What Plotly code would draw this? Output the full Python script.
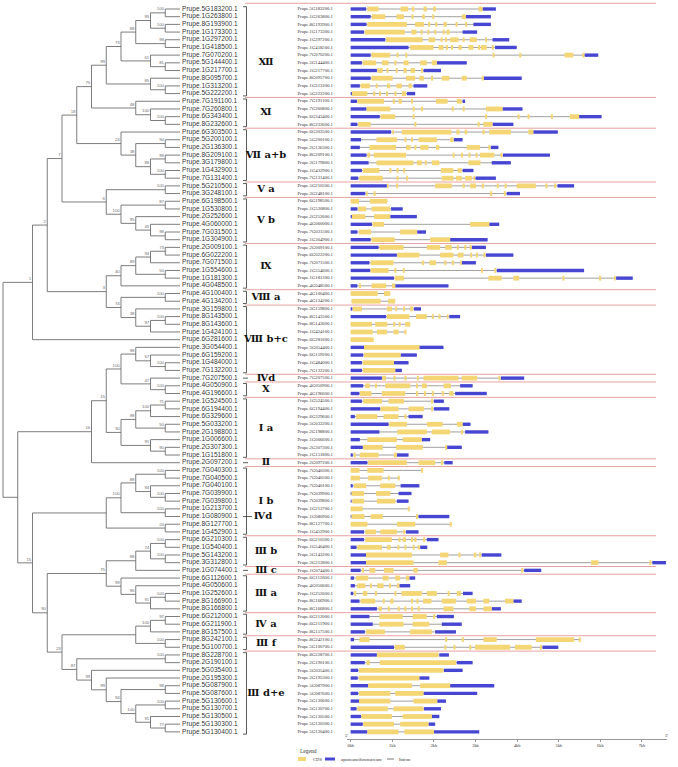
import plotly.graph_objects as go

# ---------------- data ----------------
leaf_names = [
    "Prupe.5G183200.1", "Prupe.1G263800.1", "Prupe.8G193900.1", "Prupe.1G173300.1",
    "Prupe.1G297200.1", "Prupe.1G418500.1", "Prupe.7G070200.1", "Prupe.5G144400.1",
    "Prupe.1G217700.1", "Prupe.8G095700.1", "Prupe.1G313200.1", "Prupe.5G222200.1",
    "Prupe.7G191100.1", "Prupe.7G260800.1", "Prupe.6G343400.1", "Prupe.8G232600.1",
    "Prupe.6G303500.1", "Prupe.5G200100.1", "Prupe.2G136300.1", "Prupe.8G209100.1",
    "Prupe.3G179800.1", "Prupe.1G432900.1", "Prupe.7G131400.1", "Prupe.5G210500.1",
    "Prupe.3G248100.1", "Prupe.6G198500.1", "Prupe.1G530800.1", "Prupe.2G252600.1",
    "Prupe.4G060000.1", "Prupe.7G031500.1", "Prupe.1G304900.1", "Prupe.2G009100.1",
    "Prupe.6G022200.1", "Prupe.7G071500.1", "Prupe.1G554600.1", "Prupe.1G181300.1",
    "Prupe.4G048500.1", "Prupe.4G100400.1", "Prupe.4G134200.1", "Prupe.3G159800.1",
    "Prupe.8G143500.1", "Prupe.8G143600.1", "Prupe.1G424100.1", "Prupe.6G281600.1",
    "Prupe.3G054400.1", "Prupe.6G159200.1", "Prupe.1G484000.1", "Prupe.7G132200.1",
    "Prupe.7G207500.1", "Prupe.4G050900.1", "Prupe.4G196600.1", "Prupe.1G524500.1",
    "Prupe.6G194400.1", "Prupe.6G329600.1", "Prupe.5G033200.1", "Prupe.2G198800.1",
    "Prupe.1G006600.1", "Prupe.2G307300.1", "Prupe.1G151800.1", "Prupe.2G097200.1",
    "Prupe.7G040300.1", "Prupe.7G040500.1", "Prupe.7G040100.1", "Prupe.7G039900.1",
    "Prupe.7G039800.1", "Prupe.1G213700.1", "Prupe.1G080900.1", "Prupe.8G127700.1",
    "Prupe.1G452900.1", "Prupe.6G210300.1", "Prupe.1G540400.1", "Prupe.5G143200.1",
    "Prupe.3G312800.1", "Prupe.1G074400.1", "Prupe.6G112600.1", "Prupe.4G050600.1",
    "Prupe.1G252600.1", "Prupe.8G166900.1", "Prupe.8G166800.1", "Prupe.6G212000.1",
    "Prupe.6G211900.1", "Prupe.8G157500.1", "Prupe.8G242100.1", "Prupe.5G100700.1",
    "Prupe.8G228700.1", "Prupe.2G190100.1", "Prupe.5G035400.1", "Prupe.2G195300.1",
    "Prupe.5G087900.1", "Prupe.5G087600.1", "Prupe.5G130600.1", "Prupe.5G130700.1",
    "Prupe.5G130500.1", "Prupe.5G130300.1", "Prupe.5G130400.1",
]

# tree topology by clade (leaf = row index, number after ')' = bootstrap support)
clade_XII = "(((((0,1)100,(2,3)100)95,(4,5)98)88,(6,(7,8)81)61)73,(9,(10,11)100)85)99"
clade_XI = "(12,(13,(14,15)100)100)48"
clade_VIIab = "(16,((17,18)94,((19,20)99,(21,22)100)88)38)24"
clade_V = "((23,24)100,((25,26)87,(27,(28,(29,30)98)45)95)100)6"
clade_IX = "((((31,32)73,33)94,(34,35)50)89,36)40"
clade_VIII = "((37,38)100,(39,((40,41)100,42)97)38)74"
clade_VIIIc_X = "((44,(45,(46,47)100)67)98,(48,(49,50)100)47)100"
clade_Ia = "((((51,52)71,53)100,(54,55)50)98,(56,(57,58)90)91)30"
clade_Ib = "((((60,61)100,(62,(63,64)100)94)88,(65,66)100)100,(67,68)24)"
clade_IIIbc = "(((69,70)100,(71,72)100)74,73)88"
clade_IIIa = "(74,(75,((76,77)100,78)91)96)99"
clade_IVa_IIIf = "(((79,80)97,81)100,(82,83)100)"
clade_IIIde = "((84,85)100,(86,(87,((88,89)98,((90,91)100,(92,(93,94)77)91)100)94)99)99)87"

# gene structures in kb: U = upstream/downstream, C = CDS
gene_structs = [
    "U0-0.37 C0.40-0.67 C1.20-1.38 C1.47-1.53 C1.75-1.83 C1.98-2.05 C3.07-3.17 U3.17-3.49",
    "U0-0.48 C0.51-0.83 C1.10-1.28 C1.46-1.51 C1.72-1.78 C1.96-2.01 C2.67-2.77 U2.77-3.37",
    "U0-0.38 C0.40-1.35 C1.55-1.76 C1.86-1.91 C2.03-2.08 C2.23-2.31 C2.52-2.57 C2.75-2.80 U2.95-3.37",
    "U0-0.32 C0.34-1.30 C1.46-1.58 C1.68-1.73 C1.84-1.89 C2.01-2.06 C2.21-2.26 C2.30-2.38 U2.69-3.04",
    "U0-0.83 C0.85-1.73 C1.87-2.03 C2.16-2.21 C2.27-2.32 C2.39-2.59 C2.69-2.74 C2.86-3.03 C3.23-3.28 U3.41-3.81",
    "U0-1.39 C1.43-1.99 C2.11-2.23 C2.29-2.34 C2.41-2.46 C2.59-2.67 C2.83-2.95 C3.06-3.11 C3.13-3.27 C3.39-3.44 U3.47-3.99",
    "U0-0.48 C0.50-0.95 C1.10-1.15 C1.31-1.36 C3.41-3.46 C4.05-4.10 C5.14-5.35 C5.57-5.62 U5.62-5.95",
    "U0-0.27 C0.29-0.61 C0.75-0.91 C1.05-1.10 C1.27-1.39 C1.67-1.83 C1.95-2.07 U2.07-2.79",
    "U0-0.63 C0.64-0.77 C0.86-0.91 C1.08-1.13 C1.27-1.35 C1.44-1.55 C1.69-1.74 U1.75-2.17",
    "U0-0.48 C0.50-1.01 C1.33-1.55 C1.65-1.76 C1.93-1.98 C2.19-2.37 C2.67-2.79 C3.15-3.20 U3.20-4.11",
    "U0-0.22 C0.24-0.46 C0.60-0.65 C0.87-0.95 C1.10-1.23 C1.39-1.47 U1.51-1.84",
    "U0-0.03 C0.03-0.40 C0.54-0.59 C0.68-0.73 C0.85-0.90 C1.05-1.10 C1.23-1.33 U1.35-1.55",
    "U0-0.15 C0.16-0.80 C1.01-1.06 C1.15-1.23 C1.45-1.50 C2.05-2.33 C2.55-2.67 U2.69-2.75",
    "U0-0.38 C0.38-0.95 C1.49-1.54 C1.69-1.74 C2.43-2.48 C2.69-2.74 C3.25-3.65 U3.65-4.13",
    "U0-0.70 C0.72-1.07 C1.49-1.54 C3.23-3.28 C4.01-4.06 C4.25-4.30 C4.81-4.86 C5.27-5.49 U5.49-6.03",
    "U0-0.16 C0.18-0.48 C1.53-1.58 C3.05-3.10 C3.19-3.41 U3.41-3.91",
    "U0-0.97 C1.00-1.04 C1.23-2.42 C2.54-2.62 C2.74-2.80 C3.17-3.22 C3.33-3.85 C4.27-4.39 U4.39-4.98",
    "U0-0.25 C0.62-1.11 C1.29-1.34 C1.45-1.50 C1.63-2.07 C2.39-2.47 U2.48-2.69",
    "U0-0.22 C0.45-1.09 C1.33-1.44 C1.53-1.58 C1.67-1.87 C2.05-2.13 C2.79-3.11 C3.31-3.36 U3.37-3.55",
    "U0-0.38 C0.40-0.47 C0.55-1.33 C2.45-2.50 C2.65-2.70 C2.83-2.88 C3.00-3.05 C3.11-3.45 C3.60-3.65 U3.66-4.79",
    "U0-0.43 C0.62-1.51 C1.59-1.71 C1.78-1.83 C1.95-2.13 C2.83-3.12 U3.39-3.85",
    "U0-0.27 C0.29-0.69 C0.93-0.98 C1.10-1.15 C1.26-1.31 C2.17-2.47 C2.57-2.67 U2.69-2.95",
    "U0-0.18 C0.21-0.77 C1.10-1.15 C1.33-1.38 C2.19-2.47 C2.53-2.67 C2.75-2.91 C2.95-2.99 U3.00-3.49",
    "U0-0.87 C0.87-0.91 C1.09-1.14 C2.03-2.43 C2.69-2.74 C2.87-3.01 C3.15-3.20 C3.51-3.56 C3.70-3.75 C3.99-4.45 C4.68-4.73 C4.89-4.94 U4.97-5.37",
    "U0-0.35 C0.37-0.41 C0.55-0.60 C3.35-3.40 C3.68-3.73 U3.75-4.07",
    "C0-0.20 C0.46-0.88",
    "U0-0.16 C0.18-0.37 C0.50-0.95 U0.97-1.25",
    "U0-0.03 C0.03-0.35 C0.56-0.95 U0.95-1.59",
    "U0-0.51 C0.53-0.80 C2.87-3.33 U3.33-3.57",
    "U0-0.16 C0.20-0.49 C1.19-1.59 U1.60-1.81",
    "U0-0.48 C0.50-1.06 C1.91-2.39 U2.39-3.29",
    "U0-0.67 C0.69-1.27 C1.83-2.15 C2.27-2.43 C2.55-2.60 C2.73-2.78 C2.86-2.91 U2.91-3.25",
    "U0-1.11 C1.12-1.65 C2.15-2.47 C2.57-2.71 C2.87-2.92 C3.01-3.06 C3.19-3.24 U3.25-3.91",
    "U0-0.45 C0.48-1.03 C1.71-1.76 C1.89-2.05 C2.25-2.30 C2.43-2.48 C2.63-2.67 U2.67-3.01",
    "U0-0.47 C0.48-0.91 C1.05-1.10 C1.25-1.30 C3.13-3.18 C3.45-3.50 U3.51-5.61",
    "U0-1.04 C1.06-1.28 C3.31-3.63 C3.91-4.05 C5.09-5.14 C5.97-6.02 C6.33-6.37 U6.38-6.78",
    "U0-0.16 C0.20-0.25 C0.50-0.85 C0.99-1.07 U1.07-2.35",
    "C0-0.65 C0.80-0.95",
    "C0.02-0.72 C0.90-1.07",
    "U0-0.04 C0.05-0.27 C0.87-0.99 C1.07-1.12 C1.26-1.31 C1.43-1.50 U1.52-1.69",
    "U0-0.85 C0.87-1.41 C1.57-1.83 C1.95-2.00 C2.11-2.16 C2.31-2.35 U2.37-2.63",
    "C0-0.51 C0.59-0.88 C1.02-1.07 C1.15-1.20 C1.31-1.43",
    "C0-0.53 C0.63-0.87 C1.03-1.15 C1.29-1.34",
    "C0-0.55",
    "U0-0.32 C0.32-1.65 U1.65-2.23",
    "U0-0.30 C0.32-1.20 U1.20-1.59",
    "U0-0.27 C0.29-1.04 U1.04-1.39",
    "U0-0.27 C0.29-1.07 U1.07-1.23",
    "U0-0.75 C0.76-0.85 C1.03-1.08 C1.29-1.34 C1.59-1.64 C1.75-2.59 C2.67-3.04 C3.55-3.60 U3.61-4.17",
    "U0-0.30 C0.35-0.46 C0.58-0.63 C0.83-1.43 C1.57-1.62 C1.71-1.83 C2.23-2.41 U2.63-2.93",
    "U0-0.21 C0.22-0.50 C0.75-1.31 C1.57-1.62 C1.76-1.81 C1.95-2.00 C2.19-2.24 C2.37-2.47 U2.51-3.27",
    "U0-0.27 C0.30-0.75 C0.91-1.28 C1.93-1.98 U2.00-2.24",
    "U0-0.71 C0.72-1.15 C1.39-1.76 C1.93-1.98 U2.00-2.37",
    "U0-0.10 C0.13-0.64 C0.79-1.15 C1.29-1.34 U1.39-1.73",
    "U0-0.91 C0.93-1.35 C1.83-2.21 C2.55-2.69 U2.69-2.88",
    "U0-0.69 C1.12-1.83 C1.95-2.39 C2.65-2.70 U2.75-3.31",
    "U0-0.22 C0.40-1.11 C1.25-1.71 U1.71-1.91",
    "U0-0.29 C0.30-0.77 C1.09-1.73 C2.27-2.32 U2.31-2.67",
    "U0-0.05 C0.07-0.12 C0.22-0.67 C1.04-1.11 U1.11-1.39",
    "U0-0.40 C0.42-1.35 C1.63-2.03 C2.17-2.22 U2.25-2.45",
    "C0-0.21 C0.40-0.79 C1.69-1.74",
    "C0-0.22 C0.42-0.75 C0.89-0.94 C1.13-1.18",
    "U0-0.05 C0.08-0.37 C0.71-1.07 U1.20-1.65",
    "U0-0.02 C0.02-0.32 C0.61-0.95 U1.15-1.46",
    "U0-0.02 C0.04-0.32 C0.63-1.07 U1.11-1.39",
    "C0-0.29 C1.37-1.42",
    "U0-0.02 C0.02-0.33 C0.48-0.77 C1.57-1.62 U1.63-2.37",
    "C0-0.40 C1.11-1.55 C2.38-2.43",
    "U0-0.32 C0.35-0.61 C0.71-1.11 C1.26-1.31 U1.33-1.63",
    "U0-0.32 C0.35-0.99 C1.15-1.20 C1.25-1.33 C1.45-1.50 C1.53-1.58 C1.74-1.79 U1.83-2.11",
    "U0-0.14 C0.16-0.75 C0.87-0.96 C1.12-1.17 C1.29-1.34 C1.49-1.54 C1.61-1.66 U1.67-1.84",
    "U0-0.37 C0.37-1.47 C2.15-2.35 C2.59-2.64 C2.96-3.02 C3.09-3.13 U3.15-3.62",
    "U0-0.37 C0.37-1.51 C2.11-2.31 C5.78-5.95 C7.18-7.23 U7.25-7.58",
    "U0-0.24 C0.27-0.32 C0.45-0.59 C0.80-1.03 C1.51-1.61 C4.10-4.15 U4.17-4.58",
    "U0-0.08 C0.13-0.42 C0.77-0.91 C1.07-1.19 C1.33-1.41 U1.41-1.55",
    "U0-0.10 C0.16-0.35 C0.46-0.51 C0.64-0.79 C0.92-0.97 C1.11-1.17 U1.17-1.43",
    "U0-0.06 C0.08-0.13 C0.29-0.40 C0.58-0.63 C1.05-1.10 C1.22-1.71 C1.83-2.07 C2.33-2.38 C2.55-2.65 U2.70-2.93",
    "U0-0.21 C0.24-0.59 C0.77-0.82 C0.95-1.03 C1.45-1.50 C1.58-1.63 C1.74-1.94 C2.19-2.53 C2.79-3.01 C3.19-3.33 C3.71-3.91 U3.91-4.11",
    "U0-0.63 C0.67-0.75 C0.89-0.94 C1.13-1.18 C1.29-1.34 C1.45-1.50 C1.61-1.66 C2.23-2.47 C2.85-3.01 C3.19-3.39 U3.39-3.61",
    "U0-0.45 C0.69-1.25 C1.49-1.83 C1.98-2.03 U2.07-2.48",
    "U0-0.53 C0.69-1.27 C1.49-1.89 U2.19-2.67",
    "U0-0.34 C0.37-0.82 C1.43-1.95 U2.03-2.53",
    "U0-0.08 C0.21-0.45 C2.27-2.32 C2.67-2.72 C3.19-3.51 C4.45-5.37 C5.48-5.53",
    "U0-1.04 C1.06-1.30 C2.25-2.30 C2.47-2.52 C2.85-2.90 C2.99-3.83 C3.95-4.35 C4.55-4.60 U4.61-4.99",
    "U0-0.63 C0.63-2.11 U2.13-2.36",
    "U0-0.34 C0.38-0.46 C0.70-2.53 U2.55-2.93",
    "U0-0.18 C0.20-2.23 U2.24-2.69",
    "U0-0.17 C0.20-1.65 U1.65-1.89",
    "U0-0.42 C0.42-1.47 C1.67-2.39 U2.39-3.45",
    "U0-0.18 C0.20-0.95 C1.07-1.75 U1.75-3.04",
    "U0-0.20 C0.20-0.95 C1.51-2.08 U2.08-2.29",
    "U0-0.14 C0.16-0.89 C1.03-1.75 U1.76-2.17",
    "U0-0.25 C0.26-0.99 C1.25-1.95 U1.95-2.13",
    "U0-0.29 C0.30-1.04 C1.19-1.87 U1.87-2.03",
    "U0-0.40 C0.40-1.15 C1.29-2.00 U2.00-3.09",
]

group_labels = ["Ⅻ", "Ⅺ", "Ⅶ a+b", "Ⅴ a", "Ⅴ b", "Ⅸ", "Ⅷ a", "Ⅷ b+c", "Ⅳd", "Ⅹ",
                "Ⅰ a", "Ⅱ", "Ⅰ b", "Ⅲ b", "Ⅲ c", "Ⅲ a", "Ⅳ a", "Ⅲ f", "Ⅲ d+e"]
group_first = [0, 12, 16, 23, 25, 31, 37, 39, 48, 49, 51, 59, 60, 69, 73, 74, 79, 82, 84]
group_last = [11, 15, 22, 24, 30, 36, 38, 47, 48, 50, 58, 59, 68, 72, 73, 78, 81, 83, 94]
sub_label = ("Ⅳd", 66)

kb_ticks = [0, 1, 2, 3, 4, 5, 6, 7]
kb_tick_text = ["0kb", "1kb", "2kb", "3kb", "4kb", "5kb", "6kb", "7kb"]

legend_items = ["CDS", "upstream/downstream", "Intron"]

# ---------------- assemble tree ----------------
def join(*parts, sup=""):
    return "(" + ",".join(parts) + ")" + sup


upper = join(
    join(
        join(
            join(join(clade_XII, clade_XI, sup="75"), clade_VIIab, sup="18"),
            clade_V, sup="7"),
        join(clade_IX, clade_VIII, sup="3"), sup="2"),
    "43", sup="1")
lower = join(
    join(join(clade_VIIIc_X, clade_Ia, sup="15"), "59", sup="16"),
    join(clade_Ib,
         join(join(clade_IIIbc, clade_IIIa, sup="75"),
              join(clade_IVa_IIIf, clade_IIIde, sup="23"), sup="90"),
         sup="15"))
tree_newick = join(upper, lower)

# ---------------- geometry (pixel layout) ----------------
W, H = 678, 767
ROW0, ROWSTEP = 9.0, 7.69
LEAF_PX, STEP_PX = 180.0, 14.75
KB0_PX, KB_PX = 350.7, 41.6


def tx(px):
    return (px - LEAF_PX) / STEP_PX


def kx(px):
    return (px - KB0_PX) / KB_PX


def ry(py):
    return (py - ROW0) / ROWSTEP


def parse_newick(s):
    pos = 0

    def node():
        nonlocal pos
        if s[pos] == "(":
            pos += 1
            ch = [node()]
            while s[pos] == ",":
                pos += 1
                ch.append(node())
            pos += 1  # ')'
            lab = ""
            while pos < len(s) and s[pos].isdigit():
                lab += s[pos]
                pos += 1
            return {"children": ch, "support": lab}
        num = ""
        while s[pos].isdigit():
            num += s[pos]
            pos += 1
        return {"leaf": int(num)}

    return node()


root = parse_newick(tree_newick)


def place(n):
    if "leaf" in n:
        n["h"], n["y"] = 0, n["leaf"]
        return
    for c in n["children"]:
        place(c)
    n["h"] = 1 + max(c["h"] for c in n["children"])
    n["y"] = (n["children"][0]["y"] + n["children"][-1]["y"]) / 2


place(root)
lx, ly, bx, by, bt = [], [], [], [], []


def draw(n):
    if "leaf" in n:
        return
    x = -n["h"]
    lx.extend([x, x, None])
    ly.extend([n["children"][0]["y"], n["children"][-1]["y"], None])
    for c in n["children"]:
        lx.extend([x, -c["h"], None])
        ly.extend([c["y"], c["y"], None])
        draw(c)
    if n["support"]:
        bx.append(x - 0.08)
        by.append(n["y"] - 0.45)
        bt.append(n["support"])


draw(root)

fig = go.Figure()
fig.add_trace(go.Scatter(x=lx, y=ly, mode="lines", line=dict(color="#666666", width=0.85),
                         hoverinfo="skip", showlegend=False))
fig.add_trace(go.Scatter(x=bx, y=by, mode="text", text=bt, textposition="middle left",
                         textfont=dict(size=4.4, color="#707070", family="Liberation Sans"),
                         hoverinfo="skip", showlegend=False))
rows = list(range(len(leaf_names)))
fig.add_trace(go.Scatter(x=[tx(182)] * len(rows), y=rows, mode="text", text=leaf_names,
                         textposition="middle right",
                         textfont=dict(size=6.6, color="rgba(40,40,40,0.96)",
                                       family="Liberation Sans"),
                         hoverinfo="skip", showlegend=False))

# ---------------- gene structures ----------------
ix, iy, ux, uy, cx, cy = [], [], [], [], [], []
for r, s in enumerate(gene_structs):
    feats = []
    for tok in s.split():
        a, b = tok[1:].split("-")
        feats.append((tok[0], float(a), float(b)))
    start = min(f[1] for f in feats)
    end = max(f[2] for f in feats)
    ix.extend([start, end, None])
    iy.extend([r, r, None])
    for t, a, b in feats:
        if t == "U":
            ux.extend([a, b, None]); uy.extend([r, r, None])
        else:
            cx.extend([a, b, None]); cy.extend([r, r, None])

COL_CDS, COL_UTR, COL_INTRON = "#f4d675", "#4646d2", "#a0a0a0"
fig.add_trace(go.Scatter(x=ix, y=iy, xaxis="x2", mode="lines",
                         line=dict(color=COL_INTRON, width=1), hoverinfo="skip", showlegend=False))
fig.add_trace(go.Scatter(x=ux, y=uy, xaxis="x2", mode="lines",
                         line=dict(color=COL_UTR, width=3.4), hoverinfo="skip", showlegend=False))
fig.add_trace(go.Scatter(x=cx, y=cy, xaxis="x2", mode="lines",
                         line=dict(color=COL_CDS, width=4.8), hoverinfo="skip", showlegend=False))
fig.add_trace(go.Scatter(x=[kx(297.5)] * len(rows), y=rows, xaxis="x2", mode="text",
                         text=leaf_names, textposition="middle right",
                         textfont=dict(size=4.7, color="#333", family="Liberation Serif"),
                         hoverinfo="skip", showlegend=False))

# ---------------- groups: brackets, labels, separators ----------------
brx, bry, sepx, sepy = [], [], [], []
gx, gy = [], []
label_shift = {0: 1.5}
sepx.extend([kx(245), kx(656), None]); sepy.extend([-0.74, -0.74, None])
for i, (f, l) in enumerate(zip(group_first, group_last)):
    if f == l:
        brx.extend([kx(243), kx(248), None]); bry.extend([f, f, None])
    else:
        brx.extend([kx(243), kx(246.5), kx(246.5), kx(243), None])
        bry.extend([f - 0.3, f - 0.3, l + 0.3, l + 0.3, None])
    if i > 0:
        sepx.extend([kx(245), kx(656), None]); sepy.extend([f - 0.5, f - 0.5, None])
    gx.append(kx(266))
    gy.append((f + l) / 2 + label_shift.get(i, 0))
brx.extend([kx(243), kx(252), None]); bry.extend([sub_label[1], sub_label[1], None])

fig.add_trace(go.Scatter(x=sepx, y=sepy, xaxis="x2", mode="lines",
                         line=dict(color="#e7a2a2", width=1), hoverinfo="skip", showlegend=False))
fig.add_trace(go.Scatter(x=brx, y=bry, xaxis="x2", mode="lines",
                         line=dict(color="#333", width=0.8), hoverinfo="skip", showlegend=False))
fig.add_trace(go.Scatter(x=gx + [kx(263)], y=gy + [sub_label[1]], xaxis="x2", mode="text",
                         text=[f"<b>{g}</b>" for g in group_labels] + [f"<b>{sub_label[0]}</b>"],
                         textposition="middle center",
                         textfont=dict(size=10, color="#111",
                                       family="DejaVu Serif, Liberation Serif, Noto Sans CJK SC"),
                         hoverinfo="skip", showlegend=False))

# ---------------- kb scale axis ----------------
fig.add_trace(go.Scatter(x=kb_ticks, y=[None] * len(kb_ticks), xaxis="x3", mode="markers",
                         hoverinfo="skip", showlegend=False))


def px(x):
    return x / W


def py(y):
    return 1 - y / H


shapes = [
    dict(type="rect", xref="paper", yref="paper", x0=px(298), x1=px(306), y0=py(761), y1=py(757),
         fillcolor=COL_CDS, line=dict(width=0)),
    dict(type="rect", xref="paper", yref="paper", x0=px(325), x1=px(335), y0=py(760.5), y1=py(757.5),
         fillcolor=COL_UTR, line=dict(width=0)),
    dict(type="line", xref="paper", yref="paper", x0=px(387), x1=px(394), y0=py(759), y1=py(759),
         line=dict(color="#777", width=1)),
]
small = dict(family="Liberation Serif", color="#333")
ann = dict(xref="paper", yref="paper", showarrow=False, yanchor="middle")
annots = [
    dict(x=px(298), y=py(751), text="Legend", xanchor="left", font=dict(size=5.5, **small), **ann),
    dict(x=px(311), y=py(759), text=legend_items[0], xanchor="left",
         font=dict(size=4.6, **small), **ann),
    dict(x=px(339), y=py(759), text=legend_items[1], xanchor="left",
         font=dict(size=4.6, **small), **ann),
    dict(x=px(396.5), y=py(759), text=legend_items[2], xanchor="left",
         font=dict(size=4.6, **small), **ann),
    dict(x=px(346.5), y=py(735), text="5'", xanchor="center", font=dict(size=4.5, **small), **ann),
    dict(x=px(666), y=py(735), text="3'", xanchor="center", font=dict(size=4.5, **small), **ann),
]

hidden = dict(showgrid=False, zeroline=False, showticklabels=False, showline=False, ticks="")
fig.update_layout(
    width=W, height=H, margin=dict(l=0, r=0, t=0, b=0, autoexpand=False),
    paper_bgcolor="white", plot_bgcolor="rgba(0,0,0,0)", showlegend=False,
    xaxis=dict(range=[tx(0), tx(W)], domain=[0, 1], **hidden),
    yaxis=dict(range=[ry(H), ry(0)], domain=[0, 1], **hidden),
    xaxis2=dict(range=[kx(0), kx(W)], overlaying="x", anchor="y", **hidden),
    xaxis3=dict(range=[kx(347), kx(667)], domain=[347 / W, 667 / W], anchor="free",
                position=1 - 739.3 / H, showgrid=False, zeroline=False, showline=True,
                linecolor="#999", linewidth=1, ticks="outside", ticklen=2, tickcolor="#999",
                tickvals=kb_ticks, ticktext=kb_tick_text, automargin=False,
                tickfont=dict(size=4.3, **small)),
    shapes=shapes, annotations=annots,
)
fig.write_html("out.html", config={"displayModeBar": False},
               post_script="document.body.style.margin='0';")
